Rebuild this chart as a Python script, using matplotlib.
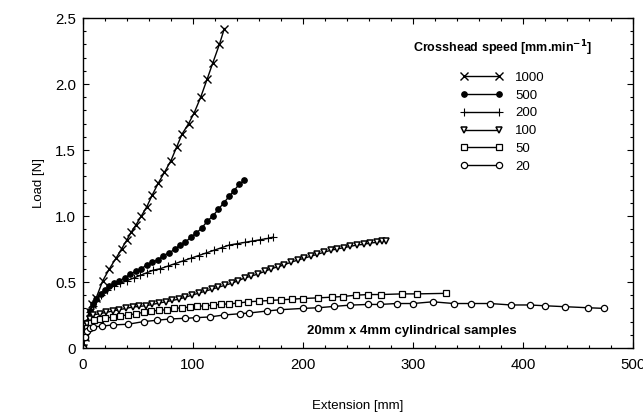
import matplotlib
matplotlib.use("Agg")
import matplotlib.pyplot as plt
from matplotlib.ticker import MultipleLocator, FixedFormatter, FixedLocator

plt.rcParams['font.family'] = ['Liberation Sans', 'DejaVu Sans']

# ---- data ----
x_1000 = [0, 2, 4, 6, 8, 12, 18, 24, 30, 35, 40, 44, 48, 53, 58, 63, 68.5, 74, 80, 85,
          90, 96, 101, 107, 113, 118, 124, 128.5]
y_1000 = [0, 0.08, 0.18, 0.27, 0.33, 0.38, 0.51, 0.60, 0.68, 0.75, 0.82, 0.88, 0.93, 1.00,
          1.07, 1.16, 1.25, 1.33, 1.42, 1.52, 1.62, 1.70, 1.78, 1.90, 2.04, 2.16, 2.30, 2.42]

x_500 = [0, 2, 4, 6, 9, 12, 16, 20, 24, 28, 33, 38, 43, 48, 53, 58, 63, 68.5, 73, 78, 84,
         88, 93, 98, 103, 108, 113, 118, 123, 128, 133, 137, 142, 146.5]
y_500 = [0, 0.10, 0.20, 0.28, 0.33, 0.37, 0.41, 0.44, 0.47, 0.49, 0.51, 0.53, 0.56, 0.58,
         0.60, 0.63, 0.65, 0.67, 0.70, 0.72, 0.75, 0.78, 0.80, 0.84, 0.87, 0.91, 0.96, 1.00,
         1.05, 1.10, 1.15, 1.19, 1.24, 1.27]

x_200 = [0, 3, 6, 9, 12, 16, 22, 28, 34, 40, 46, 52, 58, 64, 70, 77, 84, 91, 98, 105, 112,
         119, 126, 133, 140, 147, 154, 161, 168, 173]
y_200 = [0, 0.15, 0.27, 0.32, 0.36, 0.40, 0.44, 0.47, 0.49, 0.51, 0.53, 0.55, 0.57, 0.59,
         0.60, 0.62, 0.64, 0.66, 0.68, 0.70, 0.72, 0.74, 0.76, 0.78, 0.79, 0.80, 0.81, 0.82,
         0.83, 0.84]

x_100 = [0, 2, 4, 6, 9, 15, 21, 27, 33, 39, 45, 51, 57, 63, 69, 75, 81, 87, 93, 99, 105,
         111, 117, 123, 129, 135, 141, 147, 153, 159, 165, 171, 177, 183, 189, 195, 201, 207,
         213, 219, 225, 231, 237, 243, 249, 255, 261, 267, 272, 275]
y_100 = [0, 0.10, 0.18, 0.22, 0.25, 0.26, 0.27, 0.28, 0.29, 0.30, 0.31, 0.315, 0.32, 0.33,
         0.34, 0.35, 0.36, 0.37, 0.385, 0.40, 0.415, 0.43, 0.445, 0.46, 0.475, 0.49, 0.51,
         0.53, 0.545, 0.56, 0.58, 0.60, 0.615, 0.63, 0.65, 0.665, 0.68, 0.695, 0.71, 0.725,
         0.74, 0.75, 0.76, 0.77, 0.78, 0.785, 0.795, 0.80, 0.81, 0.81]

x_50 = [0, 2, 4, 7, 10, 15, 20, 27, 34, 41, 48, 55, 62, 69, 76, 83, 90, 97, 104, 111, 118,
        125, 133, 141, 150, 160, 170, 180, 190, 200, 214, 226, 236, 248, 259, 271, 290, 304,
        330]
y_50 = [0, 0.08, 0.15, 0.19, 0.21, 0.22, 0.225, 0.235, 0.245, 0.25, 0.26, 0.27, 0.28, 0.285,
        0.29, 0.30, 0.305, 0.31, 0.315, 0.32, 0.325, 0.33, 0.335, 0.34, 0.35, 0.355, 0.36,
        0.365, 0.37, 0.375, 0.38, 0.385, 0.39, 0.40, 0.405, 0.405, 0.41, 0.41, 0.414]

x_20 = [0, 2, 4, 6, 9, 17, 27, 41, 55, 67, 79, 93, 103, 115, 128, 143, 151, 167, 179, 200,
        214, 228, 243, 259, 270, 285, 300, 318, 337, 353, 370, 389, 406, 420, 438, 459, 474]
y_20 = [0, 0.08, 0.13, 0.15, 0.16, 0.165, 0.175, 0.18, 0.20, 0.21, 0.22, 0.225, 0.23, 0.235,
        0.25, 0.26, 0.265, 0.28, 0.29, 0.30, 0.305, 0.315, 0.325, 0.33, 0.33, 0.337, 0.337,
        0.35, 0.337, 0.337, 0.337, 0.326, 0.326, 0.32, 0.313, 0.305, 0.30]

labels = ['1000', '500', '200', '100', '50', '20']
y_ticks = [0, 0.5, 1.0, 1.5, 2.0, 2.5]
y_tick_labels = ['0', '0.5', '1.0', '1.5', '2.0', '2.5']
x_ticks = [0, 100, 200, 300, 400, 500]

fig = plt.figure(figsize=(6.43, 4.18), dpi=100)
ax = fig.add_axes([83 / 643, 1 - 348 / 418, 550 / 643, 330 / 418])

series = [
    (x_1000, y_1000, dict(marker='x', markersize=5.5, mfc='black', mew=1.0)),
    (x_500, y_500, dict(marker='o', markersize=4, mfc='black', mew=0.8)),
    (x_200, y_200, dict(marker='+', markersize=6, mfc='black', mew=0.8)),
    (x_100, y_100, dict(marker='v', markersize=4.5, mfc='white', mew=1.1)),
    (x_50, y_50, dict(marker='s', markersize=4, mfc='white', mew=0.9)),
    (x_20, y_20, dict(marker='o', markersize=4.5, mfc='white', mew=0.9)),
]
for (xs, ys, st), lab in zip(series, labels):
    ax.plot(xs, ys, color='black', lw=1.0, mec='black', label=lab, **st)

ax.set_xlim(0, 500)
ax.set_ylim(0, 2.5)
ax.xaxis.set_major_locator(FixedLocator(x_ticks))
ax.xaxis.set_minor_locator(MultipleLocator(20))
ax.yaxis.set_major_locator(FixedLocator(y_ticks))
ax.yaxis.set_major_formatter(FixedFormatter(y_tick_labels))
ax.yaxis.set_minor_locator(MultipleLocator(0.1))
ax.tick_params(which='both', direction='in', top=True, right=True, labelsize=10.8, width=0.8)
ax.tick_params(which='major', length=4)
ax.tick_params(axis='x', which='major', pad=7)
ax.tick_params(axis='y', which='major', pad=5)
ax.tick_params(which='minor', length=2)
for s in ax.spines.values():
    s.set_linewidth(1.0)

ax.set_xlabel('Extension [mm]', fontsize=9.5, labelpad=20)
ax.set_ylabel('Load [N]', fontsize=9.5, labelpad=7)

leg = ax.legend(loc='upper left', bbox_to_anchor=(0.578, 0.975), frameon=False,
                numpoints=2, handlelength=3.3, handletextpad=0.9, labelspacing=0.42,
                fontsize=9.5, title='Crosshead speed [mm.min$^{\\mathbf{-1}}$]',
                title_fontproperties={'weight': 'bold', 'size': 9})
leg._legend_box.align = 'center'
leg._legend_box.sep = 10

ax.text(0.407, 0.0515, '20mm x 4mm cylindrical samples', transform=ax.transAxes,
        fontsize=9.5, fontweight='bold', ha='left', va='center')

fig.savefig('out.png', dpi=100)
